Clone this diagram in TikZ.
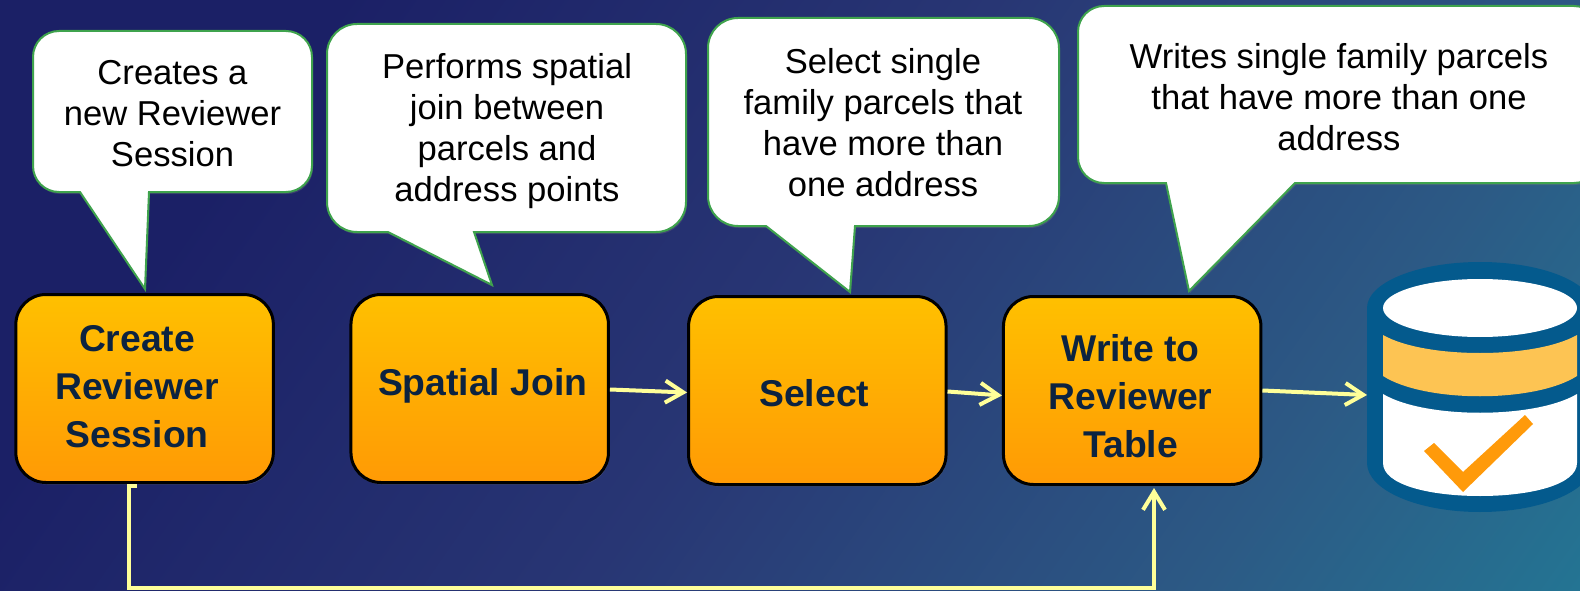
\documentclass[tikz,border=0pt]{standalone}
\usepackage{fontspec}
\setmainfont{Liberation Sans}
\usetikzlibrary{positioning,shadows,arrows.meta,calc}

\definecolor{boxtop}{HTML}{FFC000}
\definecolor{boxbottom}{HTML}{FF9A05}
\definecolor{boxink}{HTML}{0C2340}
\definecolor{notegreen}{HTML}{3FA34D}
\definecolor{arrowyellow}{HTML}{FFFF99}
\definecolor{dbblue}{HTML}{045A8D}
\definecolor{dbband}{HTML}{FDC453}
\definecolor{dbcheck}{HTML}{FF9A0A}
\definecolor{bgA}{HTML}{1B2066}
\definecolor{bgB}{HTML}{283674}
\definecolor{bgC}{HTML}{2C5A85}
\definecolor{bgD}{HTML}{227A96}

\pgfdeclarehorizontalshading{bgshade}{100bp}{color(0bp)=(bgA); color(33bp)=(bgA); color(50bp)=(bgB); color(66bp)=(bgC); color(78bp)=(bgD); color(100bp)=(bgD)}

\tikzset{
  stepbox/.style={draw=black, line width=3pt, rounded corners=30pt, top color=boxtop, bottom color=boxbottom,
    minimum width=257.5pt, minimum height=188pt, drop shadow={shadow xshift=1pt, shadow yshift=-2pt, opacity=.3}},
  steptext/.style={font=\fontsize{37.3}{48}\selectfont\bfseries, text=boxink, align=center, inner sep=0pt},
  notebody/.style={draw=notegreen, line width=2pt, fill=white, drop shadow={shadow xshift=1pt, shadow yshift=-2pt, opacity=.3}},
  notetext/.style={font=\fontsize{34.6}{41}\selectfont, text=black, align=center, inner sep=0pt},
  flow/.style={draw=arrowyellow, line width=4pt, -{Straight Barb[length=18pt,width=22pt,line width=4pt]}}
}

\begin{document}
\begin{tikzpicture}[x=1pt,y=-1pt]
  \useasboundingbox (0,0) rectangle (1580,591);

  % Background
  \begin{scope}
    \clip (0,0) rectangle (1580,591);
    \shade[shading=bgshade, shading angle=-35] (0,-495) -- (1580,-495) -- (1580,1085) -- (0,1085) -- cycle;
  \end{scope}

  % Notes
  \draw[notebody] (172,31) [rounded corners=26pt] -- (312,31) -- (312,192) [sharp corners] -- (149,192) -- (145,289) -- (80,192) [rounded corners=26pt] -- (33,192) -- (33,31) -- cycle;
  \draw[notebody] (506,24) [rounded corners=30pt] -- (686,24) -- (686,232) [sharp corners] -- (474,232) -- (492,285) -- (388,232) [rounded corners=30pt] -- (327,232) -- (327,24) -- cycle;
  \draw[notebody] (883,18) [rounded corners=30pt] -- (1059,18) -- (1059,226) [sharp corners] -- (855,226) -- (850,292) -- (766,226) [rounded corners=30pt] -- (708,226) -- (708,18) -- cycle;
  \draw[notebody] (1339,6) [rounded corners=26pt] -- (1600,6) -- (1600,183) [sharp corners] -- (1295,183) -- (1189,291) -- (1166,183) [rounded corners=26pt] -- (1078,183) -- (1078,6) -- cycle;

  \node[notetext] (note_create) at (172.5,113.5) {Creates a\\new Reviewer\\Session};
  \node[notetext] (note_join) at (507,131) {Performs spatial\\join between\\parcels and\\address points};
  \node[notetext] (note_select) at (883,122.5) {Select single\\family parcels that\\have more than\\one address};
  \node[notetext] (note_write) at (1339,97) {Writes single family parcels\\that have more than one\\address};

  % Steps
  \node[stepbox] (box_create) at (144.6,388.5) {};
  \node[stepbox, right = 74.6 of box_create] (box_join) {};
  \node[stepbox, right = 77.1 of box_join, yshift=-2] (box_select) {};
  \node[stepbox, right = 54.4 of box_select] (box_write) {};

  \node[steptext] (label_create) at ($(box_create)+(-7.5,-2)$) {Create\\Reviewer\\Session};
  \node[steptext] (label_join) at ($(box_join)+(3,-3)$) {Spatial Join};
  \node[steptext] (label_select) at ($(box_select)+(-3,3)$) {Select};
  \node[steptext] (label_write) at ($(box_write)+(-1.6,6)$) {Write to\\Reviewer\\Table};

  % Database
  \node[minimum width=226pt, minimum height=250pt, inner sep=0pt, outer sep=0pt] (db) at (1480,387) {};
  \fill[dbblue] (1367,308) arc[start angle=180, end angle=360, x radius=113, y radius=46] -- (1593,463) arc[start angle=0, end angle=180, x radius=113, y radius=49] -- cycle;
  \fill[white] (1480,308) ellipse[x radius=97, y radius=29];
  \fill[dbband] (1383,335) .. controls (1425,359) and (1535,359) .. (1577,335) -- (1577,376) .. controls (1535,403) and (1425,403) .. (1383,376) -- cycle;
  \fill[white] (1383,394) .. controls (1425,419) and (1535,419) .. (1577,394) -- (1577,463) .. controls (1577,485) and (1530,496) .. (1480,496) .. controls (1430,496) and (1383,485) .. (1383,463) -- cycle;
  \fill[dbcheck] (1424,451) -- (1434,443) -- (1463,472) -- (1525,415) -- (1533,424) -- (1463,492) -- cycle;

  % Edges
  \draw[flow] ([yshift=-1]box_join.east) -- ([yshift=-2]box_select.west);
  \draw[flow] ([yshift=-1]box_select.east) -- ([yshift=-5]box_write.west);
  \draw[flow] (box_write.east) -- ([yshift=-8]db.west);

  \coordinate (loop_start) at (137,486);
  \coordinate (loop_left) at (129,588);
  \coordinate (loop_end) at (1154,488);
  \draw[flow] (loop_start) -| (loop_left) -| (loop_end);
\end{tikzpicture}
\end{document}
